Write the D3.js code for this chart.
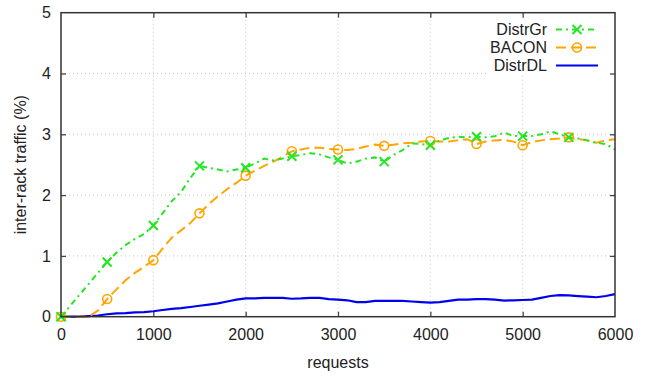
<!DOCTYPE html>
<html><head><meta charset="utf-8">
<script src="https://cdn.jsdelivr.net/npm/d3@7"></script>
<style>body{margin:0;background:#fff}svg{display:block}text{font-family:"Liberation Sans",Arial,sans-serif;fill:#222}</style>
</head><body><svg id="c" width="653" height="377"></svg>
<script>
const xs = d3.range(0, 6001, 100);
const distrGr = [0,0.18,0.36,0.54,0.72,0.9,1.05,1.18,1.28,1.36,1.5,1.7,1.9,2.05,2.28,2.48,2.45,2.42,2.39,2.42,2.45,2.52,2.6,2.57,2.6,2.64,2.66,2.69,2.67,2.62,2.58,2.52,2.55,2.6,2.62,2.55,2.66,2.74,2.85,2.84,2.82,2.9,2.94,2.96,2.95,2.96,2.95,2.97,3.03,2.97,2.97,2.97,3.0,3.05,3.0,2.95,2.93,2.9,2.86,2.84,2.75];
const bacon = [0,0,0,0,0.1,0.29,0.45,0.6,0.72,0.82,0.93,1.12,1.3,1.42,1.54,1.7,1.85,1.98,2.1,2.2,2.32,2.4,2.48,2.55,2.63,2.72,2.75,2.78,2.78,2.76,2.75,2.74,2.76,2.8,2.83,2.81,2.83,2.85,2.86,2.88,2.89,2.88,2.88,2.9,2.92,2.84,2.88,2.9,2.91,2.88,2.82,2.87,2.9,2.92,2.93,2.95,2.92,2.9,2.86,2.9,2.92];
const distrDL = [0,0,0,0.01,0.02,0.04,0.055,0.06,0.07,0.075,0.09,0.11,0.13,0.14,0.16,0.18,0.2,0.22,0.25,0.28,0.3,0.3,0.31,0.31,0.31,0.295,0.3,0.31,0.31,0.29,0.28,0.27,0.24,0.24,0.26,0.26,0.26,0.26,0.25,0.24,0.23,0.24,0.26,0.28,0.28,0.29,0.29,0.28,0.265,0.27,0.275,0.28,0.31,0.34,0.355,0.35,0.34,0.33,0.32,0.34,0.37];
const xTicks = [0,1000,2000,3000,4000,5000,6000];
const yTicks = [0,1,2,3,4,5];
const markerStep = 500;

const svg = d3.select("#c");
const L=61, R=615, T=12.7, B=316.7;
const x = d3.scaleLinear().domain([0,6000]).range([L,R]);
const y = d3.scaleLinear().domain([0,5]).range([B,T]);
const FS = 16;

// grid
const g = svg.append("g");
g.selectAll(".gx").data(xTicks.slice(1,-1)).enter().append("line")
  .attr("x1",d=>x(d)).attr("x2",d=>x(d)).attr("y1",B).attr("y2",T)
  .attr("stroke","#c8c8c8").attr("stroke-width",1).attr("stroke-dasharray","1,3");
g.selectAll(".gy").data(yTicks.slice(1,-1)).enter().append("line")
  .attr("y1",d=>y(d)).attr("y2",d=>y(d)).attr("x1",L).attr("x2",R)
  .attr("stroke","#c8c8c8").attr("stroke-width",1).attr("stroke-dasharray","1,3");

// legend background
svg.append("rect").attr("x",487).attr("y",T+1).attr("width",R-487-1).attr("height",61).attr("fill","#fff");

// axes with d3 axes (ticks inward)
const axB = svg.append("g").attr("transform",`translate(0,${B})`).call(d3.axisBottom(x).tickValues(xTicks).tickSize(-5).tickPadding(12).tickFormat(d3.format("d")));
const axT = svg.append("g").attr("transform",`translate(0,${T})`).call(d3.axisTop(x).tickValues(xTicks).tickSize(-5).tickFormat(""));
const axL = svg.append("g").attr("transform",`translate(${L},0)`).call(d3.axisLeft(y).tickValues(yTicks).tickSize(-5).tickPadding(10).tickFormat(d3.format("d")));
const axR = svg.append("g").attr("transform",`translate(${R},0)`).call(d3.axisRight(y).tickValues(yTicks).tickSize(-5).tickFormat(""));
[axB,axT,axL,axR].forEach(a=>{
  a.select(".domain").remove();
  a.selectAll(".tick line").attr("stroke","#444").attr("stroke-width",1.3);
  a.selectAll("text").attr("font-size",FS).attr("font-family","Liberation Sans, Arial, sans-serif").attr("fill","#222");
});
axB.selectAll(".tick").filter(d=>d===0||d===6000).select("line").remove();
axT.selectAll(".tick").filter(d=>d===0||d===6000).select("line").remove();
axL.selectAll(".tick").filter(d=>d===0||d===5).select("line").remove();
axR.selectAll(".tick").filter(d=>d===0||d===5).select("line").remove();

// series
const line = arr => d3.line().x((d,i)=>x(xs[i])).y(d=>y(d))(arr);
const GREEN="#22e622", ORANGE="#ffa500", BLUE="#0000ee";
svg.append("path").attr("d",line(distrDL)).attr("fill","none").attr("stroke",BLUE).attr("stroke-width",2.2);
svg.append("path").attr("d",line(bacon)).attr("fill","none").attr("stroke",ORANGE).attr("stroke-width",2).attr("stroke-dasharray","10,5");
svg.append("path").attr("d",line(distrGr)).attr("fill","none").attr("stroke",GREEN).attr("stroke-width",2).attr("stroke-dasharray","6,4,2,4");

const mIdx = xs.map((v,i)=>i).filter(i=>xs[i]%markerStep===0 && xs[i]<6000);
svg.selectAll(".mo").data(mIdx).enter().append("circle")
  .attr("cx",i=>x(xs[i])).attr("cy",i=>y(bacon[i])).attr("r",4.5)
  .attr("fill","none").attr("stroke",ORANGE).attr("stroke-width",1.6);
const cross = (cx,cy,s)=>`M${cx-s},${cy-s}L${cx+s},${cy+s}M${cx-s},${cy+s}L${cx+s},${cy-s}`;
svg.selectAll(".mg").data(mIdx).enter().append("path")
  .attr("d",i=>cross(x(xs[i]),y(distrGr[i]),4.5))
  .attr("stroke",GREEN).attr("stroke-width",2).attr("fill","none");

// frame
svg.append("rect").attr("x",L).attr("y",T).attr("width",R-L).attr("height",B-T)
  .attr("fill","none").attr("stroke","#333").attr("stroke-width",1.5);

// axis titles
svg.append("text").attr("x",(L+R)/2).attr("y",368).attr("text-anchor","middle").attr("font-size",FS).text("requests");
svg.append("text").attr("transform",`translate(26,${(T+B)/2}) rotate(-90)`).attr("text-anchor","middle").attr("font-size",FS).text("inter-rack traffic (%)");

// legend
const leg = [
  {name:"DistrGr", color:GREEN, dash:"6,4,2,4", mk:"x", yy:29.5},
  {name:"BACON", color:ORANGE, dash:"10,5", mk:"o", yy:47.5},
  {name:"DistrDL", color:BLUE, dash:null, mk:null, yy:65.5}
];
leg.forEach(l=>{
  svg.append("text").attr("x",547).attr("y",l.yy).attr("dy","0.35em").attr("text-anchor","end").attr("font-size",FS).text(l.name);
  const ln = svg.append("line").attr("x1",556).attr("x2",598).attr("y1",l.yy).attr("y2",l.yy).attr("stroke",l.color).attr("stroke-width",2);
  if(l.dash) ln.attr("stroke-dasharray",l.dash);
  if(l.mk==="x") svg.append("path").attr("d",cross(577,l.yy,4.5)).attr("stroke",l.color).attr("stroke-width",2);
  if(l.mk==="o") svg.append("circle").attr("cx",577).attr("cy",l.yy).attr("r",4.5).attr("fill","none").attr("stroke",l.color).attr("stroke-width",1.6);
});
</script></body></html>
